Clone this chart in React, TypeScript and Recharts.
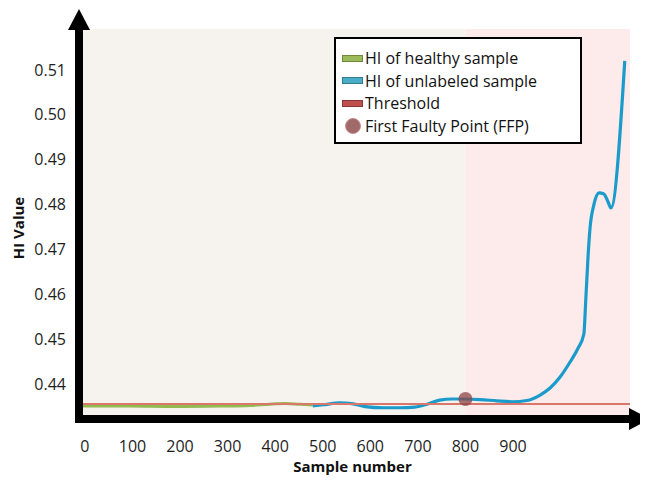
import React from 'react';
import {
  ComposedChart,
  Line,
  XAxis,
  YAxis,
  ReferenceArea,
  ReferenceLine,
  Scatter,
  Legend,
} from 'recharts';

// ---- data ----
const xTicks = [0, 100, 200, 300, 400, 500, 600, 700, 800, 900];
const yTicks = [0.44, 0.45, 0.46, 0.47, 0.48, 0.49, 0.5, 0.51];
const xDomain = [-4, 1146];
const yDomain = [0.4331, 0.5191];

const healthyX = [-4, 95, 189, 284, 347, 389, 421, 452, 479];
const healthyY = [0.4351, 0.43508, 0.43498, 0.43508, 0.43521, 0.43552, 0.43565, 0.43548, 0.43535];

const unlabeledX = [
  479, 505, 536, 561, 589, 627, 662, 694, 721, 746, 772, 799, 831, 866, 900, 929, 957, 978, 999,
  1020, 1037, 1049, 1053, 1058, 1062, 1070, 1081, 1091, 1100, 1106, 1135,
];
const unlabeledY = [
  0.4351, 0.43543, 0.43583, 0.43565, 0.43498, 0.43472, 0.43472, 0.43487, 0.43554, 0.43643,
  0.43666, 0.43666, 0.43654, 0.43625, 0.43605, 0.43632, 0.43755, 0.43911, 0.44156, 0.4449,
  0.44802, 0.45115, 0.45872, 0.46876, 0.47478, 0.4799, 0.48258, 0.48235, 0.48057, 0.47923, 0.512,
];

const thresholdValue = 0.43554;
const ffpX = 800;
const ffpY = 0.43666;

const legendLabels = [
  'HI of healthy sample',
  'HI of unlabeled sample',
  'Threshold',
  'First Faulty Point (FFP)',
];

const healthyData = healthyX.map((x, i) => ({ x, y: healthyY[i] }));
const unlabeledData = unlabeledX.map((x, i) => ({ x, y: unlabeledY[i] }));
const ffpData = [{ x: ffpX, y: ffpY }];

const FONT = '"Open Sans", sans-serif';

const swatches = [
  { fill: '#9bbb59', stroke: '#6f8a3c', type: 'rect' },
  { fill: '#4bacc6', stroke: '#2f7d92', type: 'rect' },
  { fill: '#c0504d', stroke: '#8c3633', type: 'rect' },
  { fill: '#a06a6a', stroke: '#c98a8a', type: 'circle' },
];

const renderLegend = () => (
  <div
    style={{
      boxSizing: 'border-box',
      width: 248,
      height: 107,
      border: '2px solid #000',
      background: '#fff',
      padding: '8px 0 0 6px',
      fontFamily: FONT,
      fontSize: 16,
      color: '#111',
    }}
  >
    {legendLabels.map((label, i) => {
      const s = swatches[i];
      return (
        <div key={label} style={{ display: 'flex', alignItems: 'center', height: 22.5, whiteSpace: 'nowrap' }}>
          <div style={{ width: 21, display: 'flex', justifyContent: 'center', marginRight: 2 }}>
            {s.type === 'rect' ? (
              <div
                style={{
                  width: 19,
                  height: 5,
                  background: s.fill,
                  border: `1px solid ${s.stroke}`,
                }}
              />
            ) : (
              <div
                style={{
                  width: 16,
                  height: 16,
                  borderRadius: 8,
                  background: s.fill,
                  boxSizing: 'border-box',
                  border: `1px solid ${s.stroke}`,
                }}
              />
            )}
          </div>
          <span>{label}</span>
        </div>
      );
    })}
  </div>
);

const VerticalAxisShape = (props: any) => {
  const { x1, y1, y2 } = props;
  const x = x1 - 4;
  const top = Math.min(y1, y2);
  const bottom = Math.max(y1, y2);
  return (
    <g>
      <line x1={x} y1={top} x2={x} y2={bottom + 8} stroke="#000" strokeWidth={8} />
      <polygon points={`${x - 11},${top + 1} ${x + 11},${top + 1} ${x},${top - 20}`} fill="#000" />
    </g>
  );
};

const HorizontalAxisShape = (props: any) => {
  const { x1, x2, y1 } = props;
  const y = y1 + 4;
  const left = Math.min(x1, x2);
  const right = Math.max(x1, x2);
  return (
    <g>
      <line x1={left - 8} y1={y} x2={right} y2={y} stroke="#000" strokeWidth={8} />
      <polygon points={`${right - 1},${y - 11} ${right - 1},${y + 11} ${right + 20},${y}`} fill="#000" />
    </g>
  );
};

const FfpShape = (props: any) => (
  <circle cx={props.cx} cy={props.cy} r={7} fill="#8b4545" fillOpacity={0.75} />
);

const YLabel = (props: any) => {
  const vb = props.viewBox || { x: 0, y: 0, width: 0, height: 0 };
  const cx = vb.x + 10;
  const cy = vb.y + vb.height / 2 + 6;
  return (
    <text
      x={cx}
      y={cy}
      transform={`rotate(-90, ${cx}, ${cy})`}
      textAnchor="middle"
      dominantBaseline="central"
      style={{ fontSize: 15, fontWeight: 700, fill: '#111', fontFamily: FONT }}
    >
      HI Value
    </text>
  );
};

export default function App() {
  return (
    <ComposedChart
      width={640}
      height={473}
      margin={{ top: 21, right: 18, bottom: 0, left: 0 }}
      style={{ fontFamily: FONT }}
    >
      <ReferenceArea
        x1={xDomain[0]}
        x2={ffpX}
        fill="#f6f3ee"
        fillOpacity={1}
        stroke="none"
      />
      <ReferenceArea
        x1={ffpX}
        x2={xDomain[1]}
        fill="#fcebea"
        fillOpacity={1}
        stroke="none"
      />
      <XAxis
        type="number"
        dataKey="x"
        domain={xDomain}
        ticks={xTicks}
        allowDataOverflow
        axisLine={false}
        tickLine={false}
        tickSize={0}
        tickMargin={26}
        height={66}
        tick={{ fontSize: 16, fill: '#1e1e1e', fontFamily: FONT }}
        label={{
          value: 'Sample number',
          position: 'insideBottom',
          offset: 9,
          dx: -4,
          style: { fontSize: 15, fontWeight: 700, fill: '#111', fontFamily: FONT },
        }}
      />
      <YAxis
        type="number"
        domain={yDomain}
        ticks={yTicks}
        allowDataOverflow
        axisLine={false}
        tickLine={false}
        tickSize={0}
        tickMargin={17}
        width={75}
        tickFormatter={(v: number) => v.toFixed(2)}
        tick={{ fontSize: 16, fill: '#1e1e1e', fontFamily: FONT }}
        label={<YLabel />}
      />
      <Line
        data={healthyData}
        dataKey="y"
        type="monotone"
        stroke="#92ba4f"
        strokeWidth={3}
        dot={false}
        activeDot={false}
        isAnimationActive={false}
      />
      <Line
        data={unlabeledData}
        dataKey="y"
        type="monotone"
        stroke="#1b9bcb"
        strokeWidth={3.2}
        dot={false}
        activeDot={false}
        isAnimationActive={false}
      />
      <ReferenceLine y={thresholdValue} stroke="#d9776b" strokeWidth={2} />
      <Scatter data={ffpData} dataKey="y" shape={FfpShape} isAnimationActive={false} />
      <ReferenceLine x={xDomain[0]} shape={VerticalAxisShape} />
      <ReferenceLine y={yDomain[0]} shape={HorizontalAxisShape} />
      <Legend
        layout="horizontal"
        verticalAlign="middle"
        align="center"
        content={renderLegend}
        wrapperStyle={{ left: 326, top: 29, width: 248, height: 107 }}
      />
    </ComposedChart>
  );
}
